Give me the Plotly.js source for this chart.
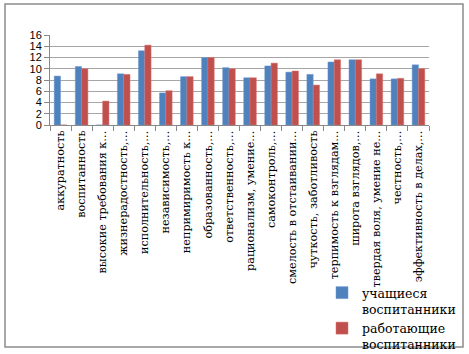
<!DOCTYPE html>
<html>
<head>
<meta charset="utf-8">
<script src="https://cdn.plot.ly/plotly-3.0.1.min.js"></script>
<style>
html,body{margin:0;padding:0;background:#fff;}
#chart{width:469px;height:354px;}
</style>
</head>
<body>
<div id="chart"></div>
<script>
const categories = [
  "аккуратность",
  "воспитанность",
  "высокие требования к…",
  "жизнерадостность,…",
  "исполнительность,…",
  "независимость,…",
  "непримиримость к…",
  "образованность,…",
  "ответственность,…",
  "рационализм, умение…",
  "самоконтроль,…",
  "смелость в отстаивании…",
  "чуткость, заботливость",
  "терпимость к взглядам…",
  "широта взглядов,…",
  "твердая воля, умение не…",
  "честность,…",
  "эффективность в делах,…"
];
const students = [8.7, 10.4, 0, 9.1, 13.2, 5.7, 8.6, 12.0, 10.2, 8.4, 10.5, 9.4, 9.0, 11.2, 11.6, 8.2, 8.2, 10.7];
const workers  = [0, 10.0, 4.25, 9.0, 14.2, 6.1, 8.6, 12.0, 10.0, 8.4, 11.0, 9.6, 7.1, 11.6, 11.6, 9.1, 8.3, 10.0];
const seriesNames = ["учащиеся<br>воспитанники", "работающие<br>воспитанники"];
const yTicks = [0, 2, 4, 6, 8, 10, 12, 14, 16];

const L = 50, R = 40, T = 35, B = 229, W = 469, H = 354;
const pw = W - L - R, ph = H - T - B;
const px = v => (v - L) / pw;
const py = v => (H - B - v) / ph;
const SERIF = "DejaVu Serif, serif";

const data = [
  {type: "bar", name: seriesNames[0], x: categories, y: students,
   marker: {color: "#4f81bd", line: {color: "#6f9bd1", width: 0.5}}},
  {type: "bar", name: seriesNames[1], x: categories, y: workers,
   marker: {color: "#c0504d", line: {color: "#d6726f", width: 0.5}}}
];

const layout = {
  width: W, height: H,
  margin: {l: L, r: R, t: T, b: B, pad: 0, autoexpand: false},
  paper_bgcolor: "#ffffff", plot_bgcolor: "#ffffff",
  barmode: "group", bargap: 0.4, bargroupgap: 0,
  showlegend: true,
  legend: {
    x: px(322), y: py(278), xanchor: "left", yanchor: "top",
    font: {family: SERIF, size: 12.5, color: "#000"},
    bgcolor: "rgba(0,0,0,0)", tracegroupgap: 0, itemwidth: 30,
    valign: "top"
  },
  xaxis: {
    type: "category",
    tickangle: -90,
    tickson: "boundaries",
    ticks: "outside", ticklen: 5, tickcolor: "#888",
    showline: true, linecolor: "#888", linewidth: 1,
    showgrid: false,
    tickfont: {family: SERIF, size: 11.2, color: "#000"},
    automargin: false
  },
  yaxis: {
    range: [0, 16],
    tickvals: yTicks,
    ticktext: yTicks.map(String),
    ticks: "outside", ticklen: 5, tickcolor: "#888",
    showline: true, linecolor: "#888", linewidth: 1,
    showgrid: true, gridcolor: "#a6a6a6", gridwidth: 1,
    zeroline: false,
    tickfont: {family: "Liberation Sans, Arial, sans-serif", size: 11, color: "#000"},
    automargin: false
  },
  shapes: [{
    type: "rect", xref: "paper", yref: "paper",
    x0: px(5), x1: px(463), y0: py(347), y1: py(4),
    line: {color: "#8c8c8c", width: 1.5}, fillcolor: "rgba(0,0,0,0)", layer: "above"
  }]
};

Plotly.newPlot("chart", data, layout, {staticPlot: true, displayModeBar: false});
</script>
</body>
</html>
